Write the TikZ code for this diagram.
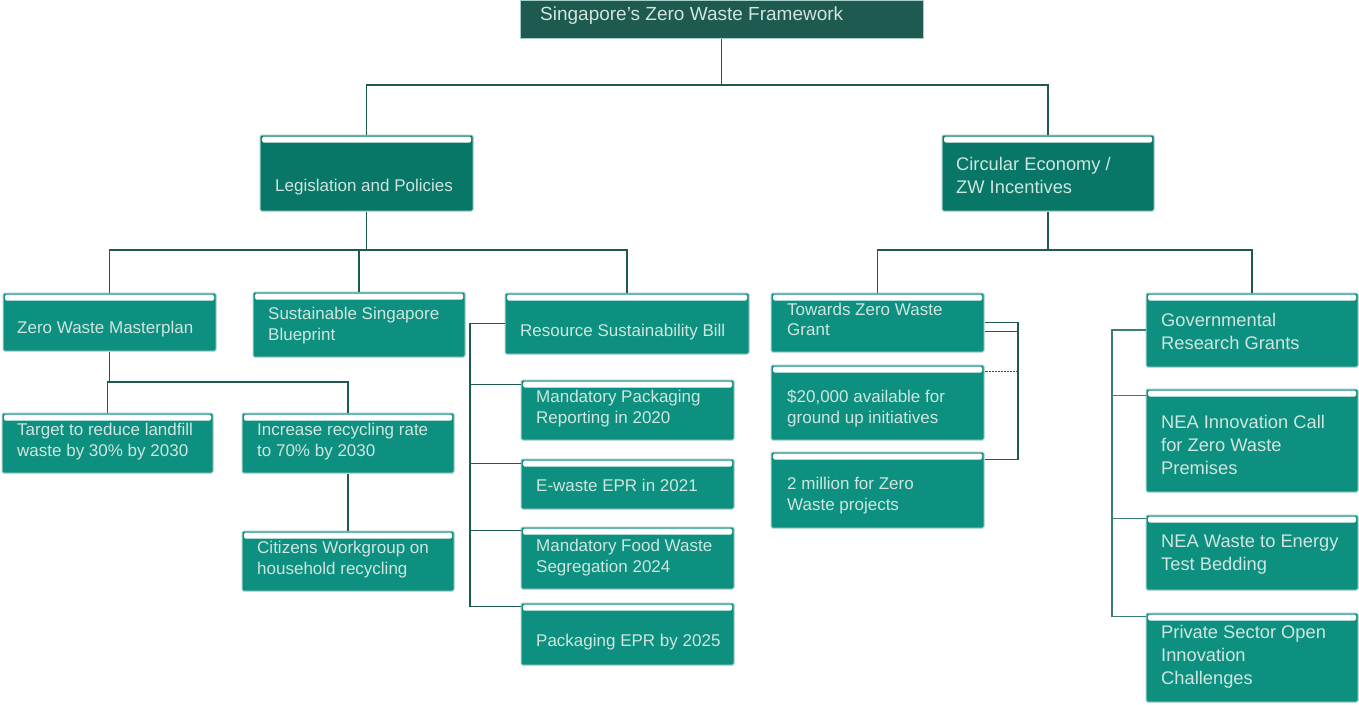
\documentclass[tikz,border=0pt]{standalone}
\usepackage{fontspec}
\setmainfont{Liberation Sans}
\usetikzlibrary{fit}
\definecolor{boxfill}{HTML}{0E9080}
\definecolor{darkfill}{HTML}{087767}
\definecolor{titlefill}{HTML}{1F5A50}
\definecolor{txtcol}{HTML}{CFE5DF}
\definecolor{edgecol}{HTML}{A3CFC8}
\definecolor{linecol}{HTML}{1D5B50}
\definecolor{linecoltwo}{HTML}{3A7F73}
\tikzset{
  zbox/.style={draw=edgecol, line width=1pt, fill=boxfill, rounded corners=1.5pt, inner sep=0pt,
    path picture={\fill[white] ([xshift=2pt,yshift=-1.5pt]path picture bounding box.north west)
      rectangle ([xshift=-2pt,yshift=-7.5pt]path picture bounding box.north east);}},
  darkbox/.style={zbox, fill=darkfill},
  titlebox/.style={draw=edgecol, line width=1pt, fill=titlefill, inner sep=0pt},
  txt/.style={text=txtcol, anchor=west, align=left, inner sep=0pt, yshift=-1.5pt, font=\fontsize{17}{20.4}\selectfont},
  bigtxt/.style={txt, font=\fontsize{18.3}{23}\selectfont},
  link/.style={draw=linecol, line width=1.7pt},
  linktwo/.style={draw=linecoltwo, line width=1.3pt},
}
\begin{document}
\begin{tikzpicture}[x=1pt, y=-1pt]
\useasboundingbox (0,0) rectangle (1359,704);
% boxes
\node[titlebox, fit={(520,0)(923,38)}] (title) {};
\node[darkbox, fit={(260,135)(473,211)}] (leg) {};
\node[darkbox, fit={(942,135)(1154,211)}] (ce) {};
\node[zbox, fit={(3,293)(216,351)}] (zwm) {};
\node[zbox, fit={(253,292)(465,357)}] (ssb) {};
\node[zbox, fit={(505,293)(749,354)}] (rsb) {};
\node[zbox, fit={(521,380)(734,440)}] (mp) {};
\node[zbox, fit={(521,459)(734,509)}] (ew) {};
\node[zbox, fit={(521,527)(734,589)}] (fw) {};
\node[zbox, fit={(521,603)(734,665)}] (epr) {};
\node[zbox, fit={(2,413)(213,473)}] (target) {};
\node[zbox, fit={(242,413)(454,473)}] (inc) {};
\node[zbox, fit={(242,531)(454,591)}] (cit) {};
\node[zbox, fit={(771,293)(984,352)}] (tzwg) {};
\node[zbox, fit={(771,365)(984,440)}] (twenty) {};
\node[zbox, fit={(771,452)(984,528)}] (mil) {};
\node[zbox, fit={(1146,293)(1358,367)}] (gov) {};
\node[zbox, fit={(1146,389)(1358,492)}] (innov) {};
\node[zbox, fit={(1146,515)(1358,590)}] (wte) {};
\node[zbox, fit={(1146,613)(1358,702)}] (priv) {};
% texts
\node[txt, font=\fontsize{19}{23}\selectfont] (ttitle) at (540,14) {Singapore's Zero Waste Framework};
\node[txt] (tleg) at (275,186) {Legislation and Policies};
\node[bigtxt] (tce) at (956,173.5) {Circular Economy /\\ZW Incentives};
\node[txt] (tzwm) at (17,328) {Zero Waste Masterplan};
\node[txt] (tssb) at (268,324) {Sustainable Singapore\\Blueprint};
\node[txt] (trsb) at (520,331) {Resource Sustainability Bill};
\node[txt] (tmp) at (536,407) {Mandatory Packaging\\Reporting in 2020};
\node[txt] (tew) at (536,484) {E-waste EPR in 2021};
\node[txt] (tfw) at (536,556) {Mandatory Food Waste\\Segregation 2024};
\node[txt] (tepr) at (536,641) {Packaging EPR by 2025};
\node[txt] (ttarget) at (17,440) {Target to reduce landfill\\waste by 30\% by 2030};
\node[txt] (tinc) at (257,440) {Increase recycling rate\\to 70\% by 2030};
\node[txt] (tcit) at (257,558) {Citizens Workgroup on\\household recycling};
\node[txt] (ttzwg) at (787,318) {Towards Zero Waste\\Grant};
\node[txt] (ttwenty) at (787,407) {\$20,000 available for\\ground up initiatives};
\node[txt] (tmil) at (787,494) {2 million for Zero\\Waste projects};
\node[bigtxt] (tgov) at (1161,330) {Governmental\\Research Grants};
\node[bigtxt] (tinnov) at (1161,443) {NEA Innovation Call\\for Zero Waste\\Premises};
\node[bigtxt] (twte) at (1161,553.5) {NEA Waste to Energy\\Test Bedding};
\node[bigtxt] (tpriv) at (1161,655) {Private Sector Open\\Innovation\\Challenges};
% junction coordinates
\coordinate (j1) at (722,85);
\coordinate (j2) at (366,250);
\coordinate (j3) at (1048,250);
\coordinate (j4) at (108,382);
\coordinate (r0) at (470,322);
\coordinate (k0) at (1018,322);
\coordinate (g0) at (1112,330);
\coordinate (b1) at ([yshift=-5pt]mp.north west);
\coordinate (b2) at ([yshift=-5pt]ew.north west);
\coordinate (b3) at ([yshift=-4pt]fw.north west);
\coordinate (b4) at ([yshift=-4pt]epr.north west);
\coordinate (m1) at ([yshift=-7pt]twenty.north east);
\coordinate (m2) at ([yshift=-8pt]mil.north east);
\coordinate (n1) at ([yshift=-7pt]innov.north west);
\coordinate (n2) at ([yshift=-4pt]wte.north west);
\coordinate (n3) at ([yshift=-4pt]priv.north west);
% connectors
\draw[link] (title.south) -- (title.south |- j1);
\draw[link] (leg.north) |- (j1) -| (ce.north);
\draw[link] (leg.south) -- (leg.south |- j2);
\draw[link] (zwm.north) |- (j2) -| (rsb.north);
\draw[link] (ssb.north) -- (ssb.north |- j2);
\draw[link] (ce.south) -- (ce.south |- j3);
\draw[link] (tzwg.north) |- (j3) -| (gov.north);
\draw[link] (zwm.south) -- (zwm.south |- j4);
\draw[link] (target.north) |- (j4) -| (inc.north);
\draw[link] (inc.south) -- (cit.north);
\draw[link] (rsb.west) -| (b4 -| r0) -- (b4);
\draw[link] (b1 -| r0) -- (b1);
\draw[link] (b2 -| r0) -- (b2);
\draw[link] (b3 -| r0) -- (b3);
\draw[link] (tzwg.east) -| (m2 -| k0) -- (m2);
\draw[link, line width=1.2pt] ([yshift=-9pt]tzwg.east) -- ([yshift=-9pt]tzwg.east -| k0);
\draw[link, line width=1.6pt, dash pattern=on 2pt off 1pt] (m1 -| k0) -- (m1);
\draw[linktwo] (gov.west) -| (n3 -| g0) -- (n3);
\draw[linktwo] (n1 -| g0) -- (n1);
\draw[linktwo] (n2 -| g0) -- (n2);
\end{tikzpicture}
\end{document}
